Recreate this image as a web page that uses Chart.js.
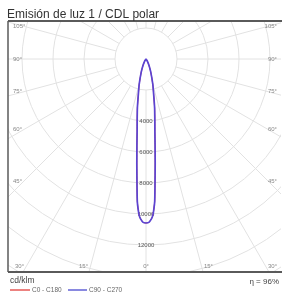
<!DOCTYPE html>
<html>
<head>
<meta charset="utf-8">
<script src="https://cdn.jsdelivr.net/npm/chart.js@4/dist/chart.umd.min.js"></script>
<style>
  html, body { margin: 0; padding: 0; background: #fff; }
  canvas { display: block; }
</style>
</head>
<body>
<canvas id="myChart" width="282" height="295"></canvas>
<script>
// gamma angles (deg) and luminous intensity (cd/klm)
var gammaAngles = [0, 1, 2, 2.5, 3, 3.5, 4, 5, 6, 7, 8, 10, 12, 15, 20, 25, 30, 35, 40, 50, 60, 90];
var intensityC0C180 = [10580, 10540, 10300, 10100, 9700, 9200, 8300, 6800, 5600, 4700, 4100, 3200, 2400, 1700, 900, 450, 200, 80, 30, 10, 0, 0];
var intensityC90C270 = [10580, 10540, 10300, 10100, 9700, 9200, 8300, 6800, 5600, 4700, 4100, 3200, 2400, 1700, 900, 450, 200, 80, 30, 10, 0, 0];

var ringValues = [2000, 4000, 6000, 8000, 10000, 12000, 14000, 16000, 18000];
var ringLabels = [4000, 6000, 8000, 10000, 12000];
var angleLabels = [0, 15, 30, 45, 60, 75, 90, 105];
var seriesNames = ["C0 - C180", "C90 - C270"];
var efficiency = "\u03B7 = 96%";

// polar -> cartesian, full loop: left half (C180 / C270) then right half (C0 / C90)
function polarLoop(values) {
    var pts = [];
    for (var i = gammaAngles.length - 1; i >= 0; i--) {
        var a = gammaAngles[i] * Math.PI / 180;
        pts.push({x: -values[i] * Math.sin(a), y: -values[i] * Math.cos(a)});
    }
    for (var j = 1; j < gammaAngles.length; j++) {
        var b = gammaAngles[j] * Math.PI / 180;
        pts.push({x: values[j] * Math.sin(b), y: -values[j] * Math.cos(b)});
    }
    return pts;
}

// frame in pixels, centre of polar diagram, and cd per pixel
var frame = {left: 8, top: 21, right: 281, bottom: 272};
var centre = {x: 146, y: 59};
var unit = 2000 / 31;

var polarGrid = {
    id: 'polarGrid',
    beforeDatasetsDraw: function(chart) {
        var ctx = chart.ctx, area = chart.chartArea;
        var xs = chart.scales.x, ys = chart.scales.y;
        var cx = xs.getPixelForValue(0), cy = ys.getPixelForValue(0);
        var rad = function(v) { return xs.getPixelForValue(v) - cx; };
        ctx.save();
        ctx.beginPath();
        ctx.rect(area.left, area.top, area.right - area.left, area.bottom - area.top);
        ctx.clip();
        ctx.strokeStyle = '#e2e2e2';
        ctx.lineWidth = 1;
        ringValues.forEach(function(v) {
            ctx.beginPath();
            ctx.arc(cx, cy, rad(v), 0, Math.PI * 2);
            ctx.stroke();
        });
        for (var a = 0; a < 360; a += 15) {
            var t = a * Math.PI / 180;
            var r0 = rad(ringValues[0]), r1 = rad(30000);
            ctx.beginPath();
            ctx.moveTo(cx + r0 * Math.sin(t), cy + r0 * Math.cos(t));
            ctx.lineTo(cx + r1 * Math.sin(t), cy + r1 * Math.cos(t));
            ctx.stroke();
        }
        ctx.restore();

        ctx.save();
        ctx.fillStyle = '#555';
        ctx.font = '6px "Liberation Sans", Arial, sans-serif';
        ctx.textAlign = 'center';
        ctx.textBaseline = 'middle';
        ringLabels.forEach(function(v) {
            ctx.fillText(String(v), cx, ys.getPixelForValue(-v));
        });

        ctx.fillStyle = '#888';
        angleLabels.forEach(function(a) {
            var t = a * Math.PI / 180;
            var txt = a + '\u00B0';
            if (a <= 30) {
                var dx = (area.bottom - 6 - cy) * Math.tan(t) + (a > 0 ? 7 : 0);
                ctx.textAlign = 'center';
                ctx.fillText(txt, cx - dx, area.bottom - 6);
                if (a > 0) ctx.fillText(txt, cx + dx, area.bottom - 6);
            } else {
                var y = cy + 122 / Math.tan(t);
                ctx.textAlign = 'left';
                ctx.fillText(txt, area.left + 5, y);
                ctx.textAlign = 'right';
                ctx.fillText(txt, area.right - 4, y);
            }
        });
        ctx.restore();
    },
    afterDraw: function(chart) {
        var ctx = chart.ctx, area = chart.chartArea;
        ctx.save();
        ctx.strokeStyle = '#5a5a5a';
        ctx.lineWidth = 2;
        ctx.beginPath();
        ctx.moveTo(area.left, area.top);
        ctx.lineTo(282, area.top);
        ctx.moveTo(area.left, area.bottom);
        ctx.lineTo(282, area.bottom);
        ctx.stroke();
        ctx.lineWidth = 1.5;
        ctx.beginPath();
        ctx.moveTo(area.left, area.top);
        ctx.lineTo(area.left, area.bottom);
        ctx.stroke();

        ctx.fillStyle = '#333';
        ctx.font = '12px "Liberation Sans", Arial, sans-serif';
        ctx.textAlign = 'left';
        ctx.textBaseline = 'alphabetic';
        ctx.fillText('Emisi\u00F3n de luz 1 / CDL polar', 7, 18);

        ctx.fillStyle = '#444';
        ctx.font = '8.5px "Liberation Sans", Arial, sans-serif';
        ctx.textBaseline = 'middle';
        ctx.fillText('cd/klm', 10, 281);
        ctx.textAlign = 'right';
        ctx.font = '8px "Liberation Sans", Arial, sans-serif';
        ctx.fillText(efficiency, 279, 282);

        ctx.lineWidth = 1.2;
        ctx.strokeStyle = '#e0302c';
        ctx.beginPath(); ctx.moveTo(10, 290); ctx.lineTo(30, 290); ctx.stroke();
        ctx.strokeStyle = '#3b3bcc';
        ctx.beginPath(); ctx.moveTo(68, 290); ctx.lineTo(87, 290); ctx.stroke();
        ctx.fillStyle = '#666';
        ctx.font = '6.5px "Liberation Sans", Arial, sans-serif';
        ctx.textAlign = 'left';
        ctx.fillText(seriesNames[0], 32, 290);
        ctx.fillText(seriesNames[1], 89, 290);
        ctx.restore();
    }
};

var config = {
    type: 'scatter',
    data: {
        datasets: [{
            label: seriesNames[0],
            data: polarLoop(intensityC0C180),
            showLine: true,
            borderColor: '#e0302c',
            borderWidth: 1,
            pointRadius: 0,
            tension: 0.15,
            order: 2
        }, {
            label: seriesNames[1],
            data: polarLoop(intensityC90C270),
            showLine: true,
            borderColor: '#5b44d2',
            borderWidth: 1.7,
            pointRadius: 0,
            tension: 0.15,
            order: 1
        }]
    },
    options: {
        responsive: false,
        animation: false,
        layout: {
            padding: {left: frame.left, top: frame.top, right: 282 - frame.right, bottom: 295 - frame.bottom}
        },
        scales: {
            x: {type: 'linear', display: false, min: -(centre.x - frame.left) * unit, max: (frame.right - centre.x) * unit},
            y: {type: 'linear', display: false, min: -(frame.bottom - centre.y) * unit, max: (centre.y - frame.top) * unit}
        },
        plugins: {
            legend: {display: false},
            title: {display: false},
            tooltip: {enabled: false}
        }
    },
    plugins: [polarGrid]
};

var ctx = document.getElementById("myChart").getContext("2d");
window.myPolar = new Chart(ctx, config);
</script>
</body>
</html>
